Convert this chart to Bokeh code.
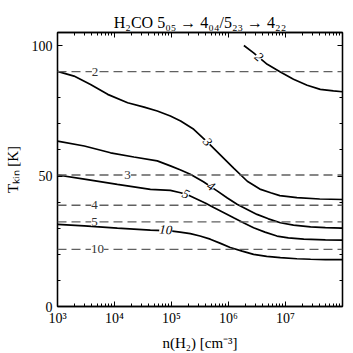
from bokeh.plotting import figure
from bokeh.models import Range1d, FixedTicker, LogAxis, LinearAxis, Span, Label
from bokeh.embed import file_html
from bokeh.resources import INLINE
import math

# ---------------- data ----------------
x_tick_exponents = [3, 4, 5, 6, 7]
x_tick_labels = ["10³", "10⁴", "10⁵", "10⁶", "10⁷"]
y_tick_values = [0, 50, 100]
y_minor_values = [10, 20, 30, 40, 60, 70, 80, 90]

title_text = "H₂CO 5₀₅ → 4₀₄/5₂₃ → 4₂₂"
x_label_text = "n(H₂) [cm⁻³]"
y_label_text = "Tₖᵢₙ [K]"

# solid contours: log10 n(H2) and T_kin
c2_logn = [6.27, 6.44, 6.68, 6.91, 7.14, 7.38, 7.61, 7.84, 8.0]
c2_T = [100.0, 97.2, 92.8, 89.9, 87.1, 84.8, 83.2, 82.6, 82.3]

c3_logn = [3.0, 3.29, 3.58, 3.88, 4.23, 4.52, 4.75, 4.98, 5.16, 5.39, 5.63,
           5.86, 6.09, 6.33, 6.55, 6.74, 6.9, 7.2, 7.6, 8.0]
c3_T = [90.1, 88.3, 85.1, 81.3, 78.1, 76.4, 74.9, 73.0, 71.1, 67.9, 63.0,
        58.0, 53.0, 48.0, 45.0, 43.6, 42.5, 41.7, 41.2, 41.0]

c4_logn = [3.0, 3.47, 3.93, 4.34, 4.75, 4.98, 5.15, 5.33, 5.56, 5.80, 5.98,
           6.15, 6.32, 6.50, 6.70, 6.91, 7.14, 7.44, 7.70, 8.0]
c4_T = [63.4, 61.5, 58.9, 57.3, 55.8, 53.9, 52.4, 50.7, 47.8, 44.3, 41.6,
        39.2, 37.3, 35.3, 33.6, 32.1, 31.2, 30.5, 30.2, 30.0]

c5_logn = [3.0, 3.47, 4.05, 4.63, 4.98, 5.16, 5.30, 5.45, 5.60, 5.74, 5.92,
           6.09, 6.27, 6.44, 6.64, 6.85, 7.05, 7.32, 7.70, 8.0]
c5_T = [50.4, 48.8, 46.8, 44.9, 44.5, 43.6, 42.6, 41.1, 39.6, 37.9, 35.9,
        34.0, 32.0, 30.2, 28.5, 27.0, 26.3, 25.8, 25.5, 25.4]

c10_logn = [3.0, 3.47, 4.05, 4.63, 4.98, 5.15, 5.33, 5.50, 5.68, 5.86, 6.03,
            6.24, 6.44, 6.67, 6.91, 7.20, 7.44, 7.70, 8.0]
c10_T = [31.5, 30.9, 30.0, 29.3, 29.0, 28.5, 27.9, 27.0, 25.8, 24.2, 22.6,
         21.2, 20.0, 19.2, 18.7, 18.3, 18.1, 18.0, 18.0]

# dashed contours (horizontal) : T_kin levels
dashed_levels = ["2", "3", "4", "5", "10"]
dashed_T = [90.0, 50.4, 38.8, 32.4, 21.9]
dashed_label_logn = [3.66, 4.23, 3.65, 3.65, 3.70]

# solid contour labels: text, log n, T, angle (deg)
solid_label_text = ["2", "3", "4", "5", "10"]
solid_label_logn = [6.53, 5.63, 5.69, 5.25, 4.90]
solid_label_T = [95.6, 63.0, 46.0, 43.0, 29.3]
solid_label_angle = [-41, -52, -33, -22, -4]

SERIF = "Liberation Serif"

p = figure(width=353, height=353, x_axis_type="log",
           x_range=Range1d(1e3, 1e8), y_range=Range1d(0, 105),
           output_backend="svg", toolbar_location=None,
           min_border_left=57, min_border_right=11,
           min_border_top=32, min_border_bottom=47)
p.grid.visible = False
p.outline_line_color = "black"
p.outline_line_width = 1.3
p.background_fill_color = "white"
p.border_fill_color = "white"

p.title.text = title_text
p.title.align = "center"
p.title.text_font = SERIF
p.title.text_font_size = "16px"
p.title.text_font_style = "normal"
p.title.text_color = "black"
p.title.standoff = 4
p.title.offset = 0

x_major = [10.0 ** e for e in x_tick_exponents]
x_minor = [m * 10.0 ** e for e in x_tick_exponents for m in range(2, 10)]
xticker = FixedTicker(ticks=x_major, minor_ticks=x_minor)
yticker = FixedTicker(ticks=y_tick_values, minor_ticks=y_minor_values)

def style_axis(ax):
    ax.axis_line_color = "black"
    ax.axis_line_width = 1.3
    ax.major_tick_in = 5
    ax.major_tick_out = 0
    ax.minor_tick_in = 3
    ax.minor_tick_out = 0
    ax.major_tick_line_color = "black"
    ax.minor_tick_line_color = "black"
    ax.major_label_text_font = SERIF
    ax.major_label_text_font_size = "14px"
    ax.major_label_text_color = "black"
    ax.axis_label_text_font = SERIF
    ax.axis_label_text_font_size = "15px"
    ax.axis_label_text_font_style = "normal"
    ax.axis_label_text_color = "black"

xa = p.xaxis[0]
xa.ticker = xticker
style_axis(xa)
xa.major_label_overrides = {v: t for v, t in zip(x_major, x_tick_labels)}
xa.major_label_standoff = 4
xa.axis_label = x_label_text
xa.axis_label_standoff = 6

ya = p.yaxis[0]
ya.ticker = yticker
style_axis(ya)
ya.major_label_standoff = 5
ya.axis_label = y_label_text
ya.axis_label_standoff = 8

top = LogAxis(ticker=xticker)
style_axis(top)
top.major_label_text_font_size = "1px"
top.major_label_text_color = None
top.major_label_standoff = 0
p.add_layout(top, "above")

right = LinearAxis(ticker=yticker)
style_axis(right)
right.major_label_text_font_size = "1px"
right.major_label_text_color = None
right.major_label_standoff = 0
p.add_layout(right, "right")

# solid contours
for ln, T in [(c2_logn, c2_T), (c3_logn, c3_T), (c4_logn, c4_T),
              (c5_logn, c5_T), (c10_logn, c10_T)]:
    p.line([10.0 ** v for v in ln], T, line_color="black", line_width=1.7)

# dashed contours
for T in dashed_T:
    p.add_layout(Span(location=T, dimension="width", line_color="#606060",
                      line_width=1.3, line_dash="9 5"))

for txt, ln, T in zip(dashed_levels, dashed_label_logn, dashed_T):
    p.add_layout(Label(x=10.0 ** ln, y=T, text=txt, text_align="center",
                       text_baseline="middle", text_font=SERIF,
                       text_font_size="13px", text_color="#333333",
                       background_fill_color="white"))

for txt, ln, T, ang in zip(solid_label_text, solid_label_logn, solid_label_T,
                           solid_label_angle):
    p.add_layout(Label(x=10.0 ** ln, y=T, text=txt, text_align="center",
                       text_baseline="middle", text_font=SERIF,
                       text_font_size="13px", text_color="black",
                       text_font_style="italic",
                       angle=math.radians(ang),
                       background_fill_color="white"))

open("out.html", "w").write(file_html(p, INLINE))
